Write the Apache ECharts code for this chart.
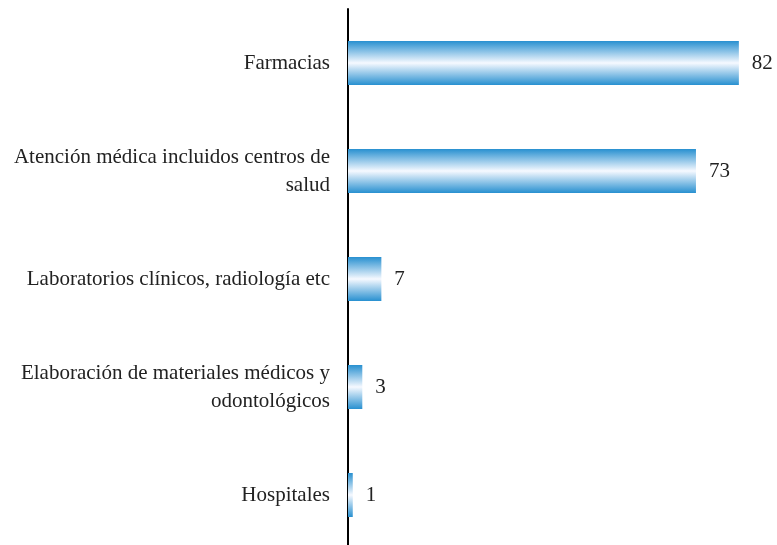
<!DOCTYPE html>
<html>
<head>
<meta charset="utf-8">
<script src="https://cdn.jsdelivr.net/npm/echarts@6/dist/echarts.min.js"></script>
<style>
  html, body { margin: 0; padding: 0; background: #fff; }
  #main { width: 777px; height: 545px; }
</style>
</head>
<body>
<div id="main"></div>
<script>
var categories = [
    'Farmacias',
    'Atención médica incluidos centros de\nsalud',
    'Laboratorios clínicos, radiología etc',
    'Elaboración de materiales médicos y\nodontológicos',
    'Hospitales'
];
var values = [82, 73, 7, 3, 1];

var chart = echarts.init(document.getElementById('main'));
var serif = 'serif';

var barColor = new echarts.graphic.LinearGradient(0, 0, 0, 1, [
    { offset: 0, color: '#2890d0' },
    { offset: 0.5, color: '#f6f9ff' },
    { offset: 1, color: '#2890d0' }
]);

var option = {
    backgroundColor: '#fff',
    animation: false,
    grid: { left: 348, right: 0, top: 9, height: 540, outerBoundsMode: 'none' },
    xAxis: {
        type: 'value',
        min: 0,
        max: 90,
        show: false
    },
    yAxis: {
        type: 'category',
        data: categories,
        inverse: true,
        axisLine: { lineStyle: { color: '#000', width: 2 } },
        axisTick: { show: false },
        axisLabel: {
            margin: 18,
            color: '#222',
            fontFamily: serif,
            fontSize: 21,
            lineHeight: 28,
            padding: [4, 0, 0, 0],
            align: 'right'
        }
    },
    series: [{
        type: 'bar',
        data: values,
        barWidth: 44,
        itemStyle: { color: barColor },
        label: {
            show: true,
            position: 'right',
            distance: 13,
            color: '#222',
            fontFamily: serif,
            fontSize: 21,
            padding: [4, 0, 0, 0]
        }
    }]
};

chart.setOption(option);
</script>
</body>
</html>
